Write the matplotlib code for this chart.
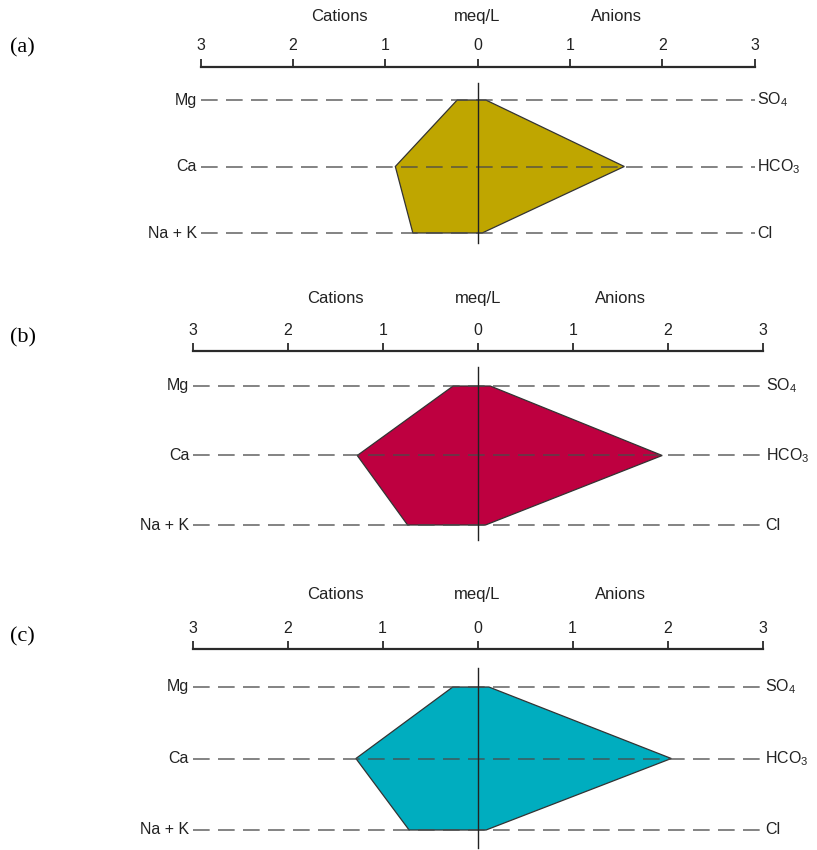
import matplotlib
matplotlib.use("Agg")
import matplotlib.pyplot as plt
from matplotlib.patches import Polygon
from matplotlib.transforms import blended_transform_factory

plt.rcParams['font.family'] = ['Liberation Sans', 'DejaVu Sans']
plt.rcParams['mathtext.fontset'] = 'custom'
plt.rcParams['mathtext.rm'] = 'Liberation Sans'
plt.rcParams['mathtext.it'] = 'Liberation Sans:italic'

# ---- data (meq/L) ----
panel_labels = ["(a)", "(b)", "(c)"]
cation_names = ["Mg", "Ca", "Na + K"]
anion_names = [r"SO$_\mathregular{4}$", r"HCO$_\mathregular{3}$", "Cl"]
tick_values = [-3, -2, -1, 0, 1, 2, 3]
tick_labels = ["3", "2", "1", "0", "1", "2", "3"]

cations_a = [0.22, 0.89, 0.70]   # Mg, Ca, Na+K
anions_a = [0.09, 1.59, 0.05]    # SO4, HCO3, Cl
cations_b = [0.26, 1.27, 0.74]
anions_b = [0.13, 1.94, 0.08]
cations_c = [0.26, 1.28, 0.72]
anions_c = [0.12, 2.04, 0.09]

colors = ["#BFA600", "#BE0040", "#00ADBF"]

# ---- layout (pixels) ----
W, H = 817, 850
# x_left, x_right, axis_line_y, row0_y, row_spacing, bottom_y
layouts = [
    (200.5, 754.5, 66.5, 100.0, 66.5, 243.0),
    (192.9, 762.9, 351.0, 386.0, 69.5, 540.0),
    (192.5, 762.5, 649.0, 687.0, 71.5, 848.0),
]
header_px = [45.5, 48, 50]
label_y = [48, 338, 637]
vtop_rows = [-0.25, -0.27, -0.27]

fig = plt.figure(figsize=(W / 100, H / 100), dpi=100)

datasets = [(cations_a, anions_a), (cations_b, anions_b), (cations_c, anions_c)]

for i, ((cats, ans), lay) in enumerate(zip(datasets, layouts)):
    xl, xr, yax, y0, dy, yb = lay
    ytop = (yax - y0) / dy
    ybot = (yb - y0) / dy
    ax = fig.add_axes([xl / W, 1 - yb / H, (xr - xl) / W, (yb - yax) / H])
    ax.set_xlim(-3, 3)
    ax.set_ylim(ybot, ytop)
    ax.patch.set_visible(False)
    for s in ["left", "right", "bottom"]:
        ax.spines[s].set_visible(False)
    ax.spines["top"].set_linewidth(1.6)
    ax.spines["top"].set_color("#2a2a2a")
    ax.xaxis.set_ticks_position("top")
    ax.set_xticks(tick_values)
    ax.set_xticklabels(tick_labels, fontsize=11.5, color="#222222")
    ax.tick_params(axis="x", direction="out", length=6, width=1.3,
                   color="#2a2a2a", pad=3.5)
    ax.set_yticks([])

    rows = list(range(len(cats)))
    # polygon
    verts = [(-cats[0], rows[0]), (ans[0], rows[0]), (ans[1], rows[1]),
             (ans[2], rows[2]), (-cats[2], rows[2]), (-cats[1], rows[1])]
    ax.add_patch(Polygon(verts, closed=True, facecolor=colors[i],
                         edgecolor="#333333", linewidth=0.9, zorder=2))
    # dashed row lines
    for r in rows:
        ax.plot([-3, 3], [r, r], color="#4a4a4a", linewidth=1.2,
                dashes=(10, 5), zorder=3, alpha=0.8, solid_capstyle="butt")
    # vertical zero line
    ax.plot([0, 0], [vtop_rows[i], ybot], color="#222222", linewidth=1.0,
            zorder=4, clip_on=False)

    # row labels
    for r, cn, an in zip(rows, cation_names, anion_names):
        ax.annotate(cn, xy=(-3, r), xytext=(-2.5, 0), textcoords="offset points",
                    ha="right", va="center", fontsize=11.5, color="#222222")
        ax.annotate(an, xy=(3, r), xytext=(2, 0), textcoords="offset points",
                    ha="left", va="center", fontsize=11.5, color="#222222")

    # headers
    tr = blended_transform_factory(ax.transData, ax.transAxes)
    for hx, ht in zip([-1.5, 0, 1.5], ["Cations", "meq/L", "Anions"]):
        ax.annotate(ht, xy=(hx, 1), xycoords=tr, xytext=(0, header_px[i] * 0.72),
                    textcoords="offset points", ha="center", va="baseline",
                    fontsize=12, color="#222222")

    fig.text(10 / W, 1 - label_y[i] / H, panel_labels[i], fontsize=16,
             family="Liberation Serif", ha="left", va="center")

fig.savefig("out.png", dpi=100)
